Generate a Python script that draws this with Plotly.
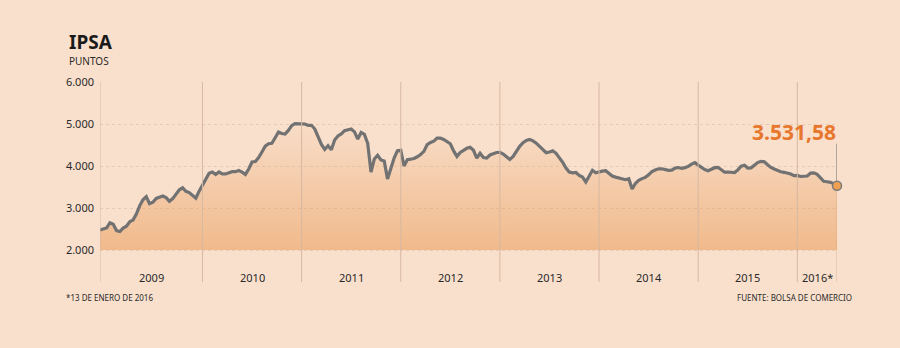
import plotly.graph_objects as go

# IPSA closing values (points), sampled through each year
ipsa_2009 = [2476, 2493, 2526, 2650, 2612, 2462, 2440, 2521, 2567, 2674, 2714, 2857, 3052,
             3195, 3269, 3105, 3138, 3229, 3267, 3286, 3248, 3160, 3224, 3338, 3433, 3479,
             3398, 3367, 3295, 3233, 3402]
ipsa_2010 = [3536, 3681, 3826, 3857, 3798, 3857, 3810, 3812, 3843, 3864, 3864, 3891, 3855,
             3800, 3929, 4095, 4107, 4200, 4333, 4472, 4531, 4541, 4674, 4810, 4774, 4760,
             4848, 4960, 5007, 5000]
ipsa_2011 = [5000, 5000, 4967, 4969, 4881, 4705, 4514, 4393, 4481, 4386, 4621, 4717, 4764,
             4843, 4862, 4881, 4812, 4643, 4798, 4752, 4541, 3857, 4167, 4255, 4143, 4119,
             3691, 3929, 4191, 4364]
ipsa_2012 = [4374, 4000, 4148, 4162, 4179, 4219, 4271, 4348, 4510, 4560, 4591, 4664, 4662,
             4633, 4576, 4529, 4360, 4229, 4324, 4383, 4421, 4443, 4374, 4186, 4302, 4202,
             4188, 4262, 4293, 4321]
ipsa_2013 = [4324, 4283, 4219, 4157, 4229, 4362, 4469, 4555, 4607, 4631, 4598, 4543, 4472,
             4393, 4317, 4333, 4360, 4302, 4205, 4088, 3950, 3855, 3836, 3845, 3776, 3738,
             3619, 3776, 3898, 3838]
ipsa_2014 = [3864, 3879, 3888, 3812, 3760, 3736, 3717, 3691, 3674, 3698, 3452, 3586, 3660,
             3700, 3729, 3791, 3867, 3905, 3933, 3933, 3914, 3898, 3902, 3950, 3964, 3945,
             3962, 3991, 4045, 4079]
ipsa_2015 = [4021, 3967, 3914, 3888, 3931, 3960, 3969, 3910, 3852, 3857, 3845, 3845, 3907,
             3998, 4017, 3952, 3957, 4029, 4081, 4112, 4100, 4029, 3967, 3929, 3888, 3864,
             3850, 3831, 3810, 3771]
ipsa_2016 = [3776, 3750, 3752, 3762, 3831, 3836, 3802, 3721, 3636, 3624, 3612, 3580, 3531.58]

anios = ["2009", "2010", "2011", "2012", "2013", "2014", "2015", "2016*"]
series_anuales = [ipsa_2009, ipsa_2010, ipsa_2011, ipsa_2012,
                  ipsa_2013, ipsa_2014, ipsa_2015, ipsa_2016]
ticks_y = [2000, 3000, 4000, 5000, 6000]
ticks_y_texto = ["2.000", "3.000", "4.000", "5.000", "6.000"]

ipsa = [v for serie in series_anuales for v in serie]
n = len(ipsa)
x = list(range(n))

# first sample index of each year
inicios = []
acum = 0
for serie in series_anuales:
    inicios.append(acum)
    acum += len(serie)
fines = inicios[1:] + [n - 1]

ultimo = ipsa[-1]
ultimo_texto = f"{ultimo:,.2f}".replace(",", "X").replace(".", ",").replace("X", ".")

FONDO = "#f9e0cd"
TEXTO = "#2a2a2a"
LINEA_ANIO = "#d6b8a2"
NARANJA = "#e8772e"
FUENTE = "Noto Sans"

W, H = 900, 348
ML, MR, MT, MB = 100, 63, 82, 66
PW, PH = W - ML - MR, H - MT - MB


def px_x(p):
    return (p - ML) / PW


def px_y(p):
    return (H - MB - p) / PH


fig = go.Figure()

# baseline for the shaded area
fig.add_trace(go.Scatter(
    x=x, y=[ticks_y[0]] * n, mode="lines", line=dict(width=0, color=FONDO),
    hoverinfo="skip", showlegend=False,
))
fig.add_trace(go.Scatter(
    x=x, y=ipsa, mode="lines",
    line=dict(color="#727272", width=3.2),
    fill="tonexty",
    fillgradient=dict(
        type="vertical",
        colorscale=[[0, "rgba(234,160,95,0.60)"], [1, "rgba(234,160,95,0.03)"]],
        start=ticks_y[0], stop=5100,
    ),
    showlegend=False,
))
# closing value marker
fig.add_trace(go.Scatter(
    x=[n - 1], y=[ultimo], mode="markers",
    marker=dict(size=9, color="#f0a050", line=dict(color="#7a7a7a", width=1.5)),
    showlegend=False, cliponaxis=False,
))

shapes = []
for s in inicios:
    shapes.append(dict(type="line", xref="x", yref="paper", x0=s, x1=s, y0=0, y1=1,
                       line=dict(color=LINEA_ANIO, width=1), layer="above"))
# end-of-series rule and leader to the value label
shapes.append(dict(type="line", xref="x", yref="paper", x0=n - 1, x1=n - 1, y0=0,
                   y1=px_y(188), line=dict(color=LINEA_ANIO, width=1), layer="below"))
shapes.append(dict(type="line", xref="x", yref="y", x0=n - 1, x1=n - 1, y0=ultimo,
                   y1=ultimo + 1000, line=dict(color="#6a6a6a", width=1), layer="below"))

annotations = []
for nombre, a, b in zip(anios, inicios, fines):
    annotations.append(dict(
        x=(a + b) / 2, y=px_y(277), xref="x", yref="paper", text=nombre,
        showarrow=False, xanchor="center", yanchor="middle",
        font=dict(family=FUENTE, size=11, color=TEXTO),
    ))

annotations += [
    dict(x=n - 1, y=ultimo + 1000, xref="x", yref="y", text=f"<b>{ultimo_texto}</b>",
         showarrow=False, xanchor="right", yanchor="bottom", xshift=1, yshift=-4,
         font=dict(family=FUENTE, size=21, color=NARANJA)),
    dict(x=px_x(67), y=px_y(42), xref="paper", yref="paper", text="<b>IPSA</b>",
         showarrow=False, xanchor="left", yanchor="middle",
         font=dict(family=FUENTE, size=19, color="#1a1a1a")),
    dict(x=px_x(67), y=px_y(60.5), xref="paper", yref="paper", text="PUNTOS",
         showarrow=False, xanchor="left", yanchor="middle",
         font=dict(family=FUENTE, size=10, color=TEXTO)),
    dict(x=px_x(64), y=px_y(297), xref="paper", yref="paper", text="*13 DE ENERO DE 2016",
         showarrow=False, xanchor="left", yanchor="middle",
         font=dict(family=FUENTE, size=8, color=TEXTO)),
    dict(x=px_x(854), y=px_y(297), xref="paper", yref="paper",
         text="FUENTE: BOLSA DE COMERCIO",
         showarrow=False, xanchor="right", yanchor="middle",
         font=dict(family=FUENTE, size=8, color=TEXTO)),
]

y_min = ticks_y[-1] - (PH / 42.0) * 1000

fig.update_layout(
    width=W, height=H,
    margin=dict(l=ML, r=MR, t=MT, b=MB, pad=0),
    paper_bgcolor=FONDO, plot_bgcolor=FONDO,
    xaxis=dict(range=[0, n - 1], showgrid=False, zeroline=False, showticklabels=False,
               showline=False, fixedrange=True),
    yaxis=dict(range=[y_min, ticks_y[-1]], tickvals=ticks_y, ticktext=ticks_y_texto,
               showgrid=True, gridcolor="#e6cab4", griddash="dot", gridwidth=1,
               zeroline=False, showline=False, ticks="", ticklabelstandoff=5,
               tickfont=dict(family=FUENTE, size=11, color=TEXTO)),
    shapes=shapes,
    annotations=annotations,
    showlegend=False,
)

fig.write_html("out.html")
